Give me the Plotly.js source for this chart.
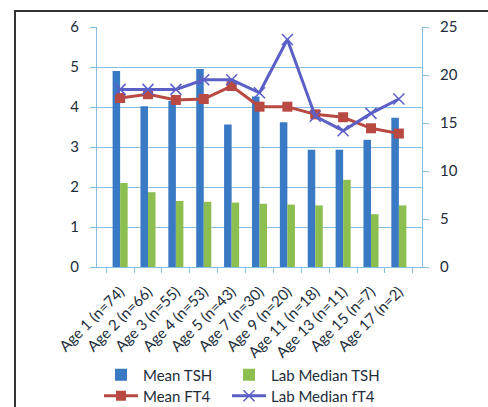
<!DOCTYPE html>
<html>
<head>
<meta charset="utf-8">
<script src="https://cdn.plot.ly/plotly-3.0.1.min.js"></script>
<style>
html,body{margin:0;padding:0;background:#fff;}
#wrap{position:relative;width:488px;height:407px;overflow:hidden;}
#chart{width:488px;height:407px;}
#frame{position:absolute;left:14px;top:10px;width:600px;height:600px;border-left:2px solid #333;border-top:2px solid #333;pointer-events:none;}
</style>
</head>
<body>
<div id="wrap"><div id="chart"></div><div id="frame"></div></div>
<script>
const categories = ["Age 1 (n=74)","Age 2 (n=66)","Age 3 (n=55)","Age 4 (n=53)","Age 5 (n=43)","Age 7 (n=30)","Age 9 (n=20)","Age 11 (n=18)","Age 13 (n=11)","Age 15 (n=7)","Age 17 (n=2)"];
const meanTSH = [4.9, 4.02, 4.15, 4.95, 3.56, 4.26, 3.62, 2.93, 2.93, 3.18, 3.73];
const labMedianTSH = [2.1, 1.87, 1.65, 1.63, 1.61, 1.58, 1.56, 1.54, 2.18, 1.32, 1.54];
const meanFT4 = [17.6, 18.0, 17.4, 17.5, 18.85, 16.7, 16.7, 15.9, 15.6, 14.45, 13.9];
const labMedianFT4 = [18.5, 18.5, 18.5, 19.5, 19.5, 18.15, 23.7, 15.7, 14.2, 16.0, 17.5];

const font = {family: "Lato, 'Open Sans', sans-serif", size: 13, color: "#222d3b"};
const axisBlue = "#86bfe2";

const traces = [
  {type:"bar", name:"Mean TSH", x:categories, y:meanTSH, marker:{color:"#3a79c3"}, legend:"legend"},
  {type:"bar", name:"Lab Median TSH", x:categories, y:labMedianTSH, marker:{color:"#8dbf50"}, legend:"legend2"},
  {type:"scatter", mode:"lines+markers", name:"Mean FT4", x:categories, y:meanFT4, yaxis:"y2",
   line:{color:"#b94a43", width:3}, marker:{symbol:"square", size:10, color:"#b94a43"}, legend:"legend3"},
  {type:"scatter", mode:"lines+markers", name:"Lab Median fT4", x:categories, y:labMedianFT4, yaxis:"y2",
   line:{color:"#5b5fc6", width:3}, marker:{symbol:"x-thin", size:11, line:{color:"#5b5fc6", width:1.5}}, legend:"legend4"}
];

const legendCommon = {orientation:"h", xref:"container", yref:"container", xanchor:"left", yanchor:"middle",
  font:{size:15, color:"#222d3b"}, itemwidth:34, bgcolor:"rgba(0,0,0,0)"};
const col1 = 99, col2 = 227, row1 = 375, row2 = 396;

const layout = {
  width:488, height:407,
  margin:{l:97, r:66, t:27, b:140, autoexpand:false},
  paper_bgcolor:"#fff", plot_bgcolor:"#fff",
  font:font,
  barmode:"group", bargap:0.46, bargroupgap:0,
  xaxis:{type:"category", tickangle:-45, showline:true, linecolor:axisBlue, linewidth:1, automargin:false,
         ticks:"outside", tickson:"boundaries", ticklen:5, tickcolor:axisBlue, showgrid:false,
         tickfont:{size:15, color:"#222d3b"}, ticklabelstandoff:9},
  yaxis:{range:[0,6], dtick:1, showline:true, linecolor:axisBlue, linewidth:1, ticks:"outside", automargin:false,
         ticklen:6, tickcolor:axisBlue, gridcolor:axisBlue, gridwidth:1, zeroline:false,
         tickfont:{size:15}, ticklabelstandoff:8},
  yaxis2:{range:[0,25], dtick:5, overlaying:"y", side:"right", showline:true, linecolor:axisBlue, automargin:false,
          linewidth:1, ticks:"outside", ticklen:6, tickcolor:axisBlue, showgrid:false, zeroline:false,
          tickfont:{size:15}, ticklabelstandoff:8},
  legend:Object.assign({}, legendCommon, {x:col1/488, y:(407-row1)/407}),
  legend2:Object.assign({}, legendCommon, {x:col2/488, y:(407-row1)/407}),
  legend3:Object.assign({}, legendCommon, {x:col1/488, y:(407-row2)/407}),
  legend4:Object.assign({}, legendCommon, {x:col2/488, y:(407-row2)/407}),
  showlegend:true
};

Plotly.newPlot("chart", traces, layout, {displayModeBar:false, staticPlot:true});
</script>
</body>
</html>
